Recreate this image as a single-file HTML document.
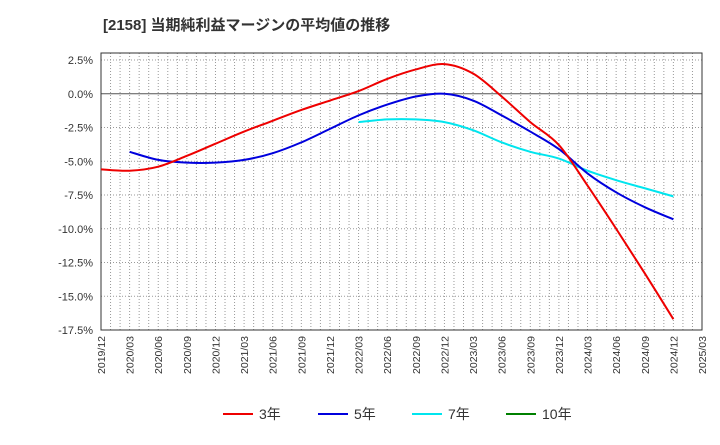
<!DOCTYPE html>
<html><head><meta charset="utf-8"><style>
body{margin:0;background:#fff;font-family:"Liberation Sans","Noto Sans CJK JP",sans-serif;}
svg text{font-family:"Liberation Sans","Noto Sans CJK JP",sans-serif;}
</style></head><body>
<svg id="chart" width="720" height="440">
<text x="103" y="30" font-size="15" font-weight="bold" fill="#333">[2158]  当期純利益マージンの平均値の推移</text>
<g id="grid"></g><g id="axes"></g><g id="series"></g><g id="legend"></g>
</svg>
<script>
const categories=["2019/12","2020/03","2020/06","2020/09","2020/12","2021/03","2021/06","2021/09","2021/12","2022/03","2022/06","2022/09","2022/12","2023/03","2023/06","2023/09","2023/12","2024/03","2024/06","2024/09","2024/12","2025/03"];
const yTicks=[2.5,0,-2.5,-5,-7.5,-10,-12.5,-15,-17.5];
const s3=[-5.6,-5.7,-5.4,-4.6,-3.7,-2.8,-2.0,-1.2,-0.5,0.2,1.1,1.8,2.2,1.5,-0.2,-2.1,-3.8,-6.8,-10.0,-13.3,-16.7];
const s5=[null,-4.3,-4.9,-5.1,-5.1,-4.9,-4.4,-3.6,-2.6,-1.6,-0.8,-0.2,0.0,-0.5,-1.6,-2.8,-4.1,-5.9,-7.3,-8.4,-9.3];
const s7=[null,null,null,null,null,null,null,null,null,-2.1,-1.9,-1.9,-2.1,-2.7,-3.6,-4.3,-4.8,-5.7,-6.4,-7.0,-7.6];
const s10=[];
const L=101,R=702,T=53,B=330,YMAX=3.02,YMIN=-17.5;
const x=i=>L+(R-L)*i/(categories.length-1);
const y=v=>T+(B-T)*(YMAX-v)/(YMAX-YMIN);
const NS="http://www.w3.org/2000/svg";
function mk(tag,attrs,parent){const e=document.createElementNS(NS,tag);for(const k in attrs)e.setAttribute(k,attrs[k]);parent.appendChild(e);return e;}
const grid=document.getElementById('grid'),axes=document.getElementById('axes'),ser=document.getElementById('series'),leg=document.getElementById('legend');
for(let m=1;m<(categories.length-1)*3;m++){const xx=L+(R-L)*m/((categories.length-1)*3);
 const g=mk('line',{x1:xx,x2:xx,y1:T,y2:B,stroke:'#999','stroke-dasharray':'1,2','stroke-width':1},grid);
 }
yTicks.forEach(v=>{const yy=y(v);
 const g=mk('line',{x1:L,x2:R,y1:yy,y2:yy,stroke:v===0?'#555':'#999','stroke-dasharray':v===0?'none':'1,2','stroke-width':1},grid);
 
 const t=mk('text',{x:L-8,y:yy+4,'text-anchor':'end','font-size':11,fill:'#333'},axes);t.textContent=v.toFixed(1)+'%';
 });
const fr=mk('rect',{x:L,y:T,width:R-L,height:B-T,fill:'none',stroke:'#333'},axes);

categories.forEach((c,i)=>{const t=mk('text',{transform:`translate(${x(i)+4},${B+6}) rotate(-90)`,'text-anchor':'end','font-size':10.5,fill:'#333'},axes);t.textContent=c;
 });
function path(data,color,name){const pts=[];data.forEach((v,i)=>{if(v!=null)pts.push([x(i),y(v)]);});if(pts.length<2)return;
 let d=`M${pts[0][0]},${pts[0][1]}`;
 for(let i=0;i<pts.length-1;i++){const p0=pts[i-1]||pts[i],p1=pts[i],p2=pts[i+1],p3=pts[i+2]||p2;
  d+=` C${p1[0]+(p2[0]-p0[0])/6},${p1[1]+(p2[1]-p0[1])/6} ${p2[0]-(p3[0]-p1[0])/6},${p2[1]-(p3[1]-p1[1])/6} ${p2[0]},${p2[1]}`;}
 const p=mk('path',{d:d,fill:'none',stroke:color,'stroke-width':2},ser);
 }
path(s7,'#00e5ee','series-7y');path(s5,'#0000dd','series-5y');path(s3,'#ee0000','series-3y');path(s10,'#008000','series-10y');
[['3年','#ee0000',223],['5年','#0000dd',318],['7年','#00e5ee',412],['10年','#008000',506]].forEach(([n,c,lx])=>{
 const g=mk('g',{},leg);
 mk('line',{x1:lx,x2:lx+30,y1:414,y2:414,stroke:c,'stroke-width':2},g);
 const t=mk('text',{x:lx+36,y:419,'font-size':14,fill:'#333'},g);t.textContent=n;});
</script>
</body></html>
